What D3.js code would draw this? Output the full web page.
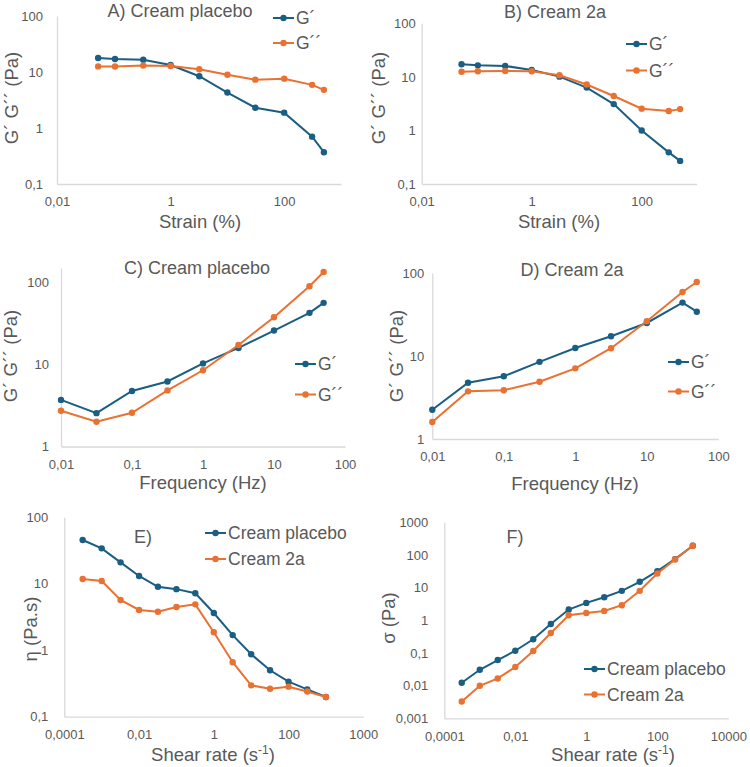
<!DOCTYPE html>
<html>
<head>
<meta charset="utf-8">
<script src="https://cdn.jsdelivr.net/npm/d3@7"></script>
<style>
  body { margin: 0; background: #fff; }
  svg { display: block; font-family: "Liberation Sans", Arial, sans-serif; }
</style>
</head>
<body>
<div id="div_chart"></div>
<script>
// ---- data ----
var strainPct = [0.053, 0.105, 0.33, 1, 3.2, 10, 31, 100, 310, 500];
var placeboStrainG1 = [17.8, 17.1, 16.6, 13.3, 8.4, 4.3, 2.3, 1.88, 0.70, 0.37];
var placeboStrainG2 = [12.6, 12.5, 13.0, 12.8, 11.2, 8.95, 7.3, 7.6, 5.9, 4.8];
var cream2aStrainG1 = [17.2, 16.4, 16.0, 13.4, 10.1, 6.3, 3.1, 1.0, 0.39, 0.27];
var cream2aStrainG2 = [12.5, 12.7, 12.9, 12.7, 10.7, 7.2, 4.4, 2.55, 2.3, 2.5];

var freqHz = [0.01, 0.0316, 0.1, 0.316, 1, 3.16, 10, 31.6, 50];
var placeboFreqG1 = [3.7, 2.55, 4.75, 6.2, 10.3, 15.9, 25.9, 42.6, 56.4];
var placeboFreqG2 = [2.73, 2.0, 2.58, 4.83, 8.5, 17.3, 37.7, 90, 134];
var cream2aFreqG1 = [2.25, 4.77, 5.7, 8.5, 12.5, 17.3, 25, 44, 34.2];
var cream2aFreqG2 = [1.6, 3.75, 3.86, 4.9, 7.1, 12.4, 26.2, 59, 78];

var shearRate = [0.00031, 0.001, 0.0032, 0.01, 0.032, 0.1, 0.32, 1, 3.2, 10, 32, 100, 316, 1000];
var placeboVisc = [45.6, 34.1, 21, 13.1, 9.0, 8.3, 7.2, 3.63, 1.69, 0.87, 0.50, 0.336, 0.258, 0.198];
var cream2aVisc = [11.8, 11.0, 5.7, 4.03, 3.8, 4.47, 4.9, 1.86, 0.66, 0.296, 0.264, 0.283, 0.24, 0.198];
var placeboStress = [0.0122, 0.0306, 0.0607, 0.117, 0.262, 0.773, 2.13, 3.41, 5.1, 7.98, 15.1, 32, 74.8, 192];
var cream2aStress = [0.00327, 0.0099, 0.0166, 0.037, 0.115, 0.41, 1.43, 1.68, 1.94, 2.9, 7.98, 27.2, 73, 192];

// tick values and their printed labels
var strainTicks = [0.01, 1, 100];
var strainTickLabels = ["0,01", "1", "100"];
var freqTicks = [0.01, 0.1, 1, 10, 100];
var freqTickLabels = ["0,01", "0,1", "1", "10", "100"];
var shearTicks = [1e-4, 1e-2, 1, 100, 1e4];
var shearTickLabelsE = ["0,0001", "0,01", "1", "100", "1000"];
var shearTickLabelsF = ["0,0001", "0,01", "1", "100", "10000"];
var modTicksAB = [0.1, 1, 10, 100];
var modTickLabelsAB = ["0,1", "1", "10", "100"];
var modTicksCD = [1, 10, 100];
var modTickLabelsCD = ["1", "10", "100"];
var viscTicks = [0.1, 1, 10, 100];
var viscTickLabels = ["0,1", "1", "10", "100"];
var stressTicks = [0.001, 0.01, 0.1, 1, 10, 100, 1000];
var stressTickLabels = ["0,001", "0,01", "0,1", "1", "10", "100", "1000"];

var gModLabels = ["G\u00b4", "G\u00b4\u00b4"];
var creamLabels = ["Cream placebo", "Cream 2a"];

var blue = "#1a5e83";
var orange = "#e97132";
var grey = "#595959";
var axisGrey = "#d9d9d9";

var svg = d3.select("#div_chart")
    .append("svg")
        .attr("width", 750)
        .attr("height", 767);

// one entry per panel: box = pixel positions of the axis range
var panels = [
    {title: "A) Cream placebo", tx: 180, ty: 17,
     x: strainPct, ys: [placeboStrainG1, placeboStrainG2], names: gModLabels,
     xDom: [0.01, 1000], xRange: [57, 341], xTicks: strainTicks, xLabels: strainTickLabels,
     yDom: [0.1, 100], yRange: [184, 16], yTicks: modTicksAB, yLabels: modTickLabelsAB, yPad: 14,
     xTitle: "Strain (%)", xtx: 200, xty: 228, yTitle: "G\u00b4 G\u00b4\u00b4 (Pa)", ytx: 18, yty: 98,
     leg: {x: 273, y: 18, dy: 25}},
    {title: "B) Cream 2a", tx: 555, ty: 18,
     x: strainPct, ys: [cream2aStrainG1, cream2aStrainG2], names: gModLabels,
     xDom: [0.01, 1000], xRange: [421.7, 696.7], xTicks: strainTicks, xLabels: strainTickLabels,
     yDom: [0.1, 100], yRange: [184, 23.3], yTicks: modTicksAB, yLabels: modTickLabelsAB, yPad: 6,
     xTitle: "Strain (%)", xtx: 559, xty: 228, yTitle: "G\u00b4 G\u00b4\u00b4 (Pa)", ytx: 385, yty: 98,
     leg: {x: 626, y: 44, dy: 26.5}},
    {title: "C) Cream placebo", tx: 197, ty: 274,
     x: freqHz, ys: [placeboFreqG1, placeboFreqG2], names: gModLabels,
     xDom: [0.01, 100], xRange: [61, 345], xTicks: freqTicks, xLabels: freqTickLabels,
     yDom: [1, 150], yRange: [446.5, 268], yTicks: modTicksCD, yLabels: modTickLabelsCD, yPad: 12,
     xTitle: "Frequency (Hz)", xtx: 203, xty: 489, yTitle: "G\u00b4 G\u00b4\u00b4 (Pa)", ytx: 17, yty: 356,
     leg: {x: 295, y: 364, dy: 30.5}},
    {title: "D) Cream 2a", tx: 572, ty: 276,
     x: freqHz, ys: [cream2aFreqG1, cream2aFreqG2], names: gModLabels,
     xDom: [0.01, 100], xRange: [432.3, 718.3], xTicks: freqTicks, xLabels: freqTickLabels,
     yDom: [1, 100], yRange: [439, 273], yTicks: modTicksCD, yLabels: modTickLabelsCD, yPad: 8,
     xTitle: "Frequency (Hz)", xtx: 575, xty: 490, yTitle: "G\u00b4 G\u00b4\u00b4 (Pa)", ytx: 403, yty: 356,
     leg: {x: 668, y: 362, dy: 29.5}},
    {title: "E)", tx: 143, ty: 543,
     x: shearRate, ys: [placeboVisc, cream2aVisc], names: creamLabels,
     xDom: [1e-4, 1e4], xRange: [64.3, 363.3], xTicks: shearTicks, xLabels: shearTickLabelsE,
     yDom: [0.1, 100], yRange: [716.7, 517.3], yTicks: viscTicks, yLabels: viscTickLabels, yPad: 16,
     xTitle: "Shear rate (s", xtx: 213, xty: 761, yTitle: "\u03b7 (Pa.s)", ytx: 37, yty: 629,
     leg: {x: 205, y: 533, dy: 26}},
    {title: "F)", tx: 515, ty: 543,
     x: shearRate, ys: [placeboStress, cream2aStress], names: creamLabels,
     xDom: [1e-4, 1e4], xRange: [444.3, 728.3], xTicks: shearTicks, xLabels: shearTickLabelsF,
     yDom: [0.001, 1000], yRange: [718.3, 522.3], yTicks: stressTicks, yLabels: stressTickLabels, yPad: 16,
     xTitle: "Shear rate (s", xtx: 613, xty: 761, yTitle: "\u03c3 (Pa)", ytx: 395, yty: 618,
     leg: {x: 584, y: 669, dy: 25.5}}
];

var colors = [blue, orange];

panels.forEach(function (p) {
    var x = d3.scaleLog().domain(p.xDom).range(p.xRange);
    var y = d3.scaleLog().domain(p.yDom).range(p.yRange);
    var g = svg.append("g");

    // X axis
    var xa = g.append("g")
        .attr("transform", "translate(0," + p.yRange[0] + ")")
        .call(d3.axisBottom(x).tickValues(p.xTicks)
            .tickFormat(function (d, i) { return p.xLabels[i]; })
            .tickSize(0).tickSizeOuter(0).tickPadding(13));
    // Y axis
    var ya = g.append("g")
        .attr("transform", "translate(" + p.xRange[0] + ",0)")
        .call(d3.axisLeft(y).tickValues(p.yTicks)
            .tickFormat(function (d, i) { return p.yLabels[i]; })
            .tickSize(0).tickSizeOuter(0).tickPadding(p.yPad));
    [xa, ya].forEach(function (a) {
        a.select(".domain").attr("stroke", axisGrey).attr("stroke-width", 1.3);
        a.selectAll("text").attr("fill", grey).style("font-size", "13px")
            .style("font-family", "'Liberation Sans', Arial, sans-serif");
    });

    // series
    p.ys.forEach(function (vals, k) {
        var pts = p.x.map(function (xv, i) { return [xv, vals[i]]; });
        g.append("path")
            .datum(pts)
            .attr("fill", "none")
            .attr("stroke", colors[k])
            .attr("stroke-width", 2)
            .attr("d", d3.line().x(d => x(d[0])).y(d => y(d[1])));
        g.selectAll(".pt" + k)
            .data(pts)
            .enter()
            .append("circle")
            .attr("cx", d => x(d[0]))
            .attr("cy", d => y(d[1]))
            .attr("r", 3.2)
            .attr("fill", colors[k]);
    });

    // legend
    p.names.forEach(function (name, k) {
        var ly = p.leg.y + k * p.leg.dy;
        g.append("line")
            .attr("x1", p.leg.x).attr("x2", p.leg.x + 21)
            .attr("y1", ly).attr("y2", ly)
            .attr("stroke", colors[k]).attr("stroke-width", 2);
        g.append("circle")
            .attr("cx", p.leg.x + 10.5).attr("cy", ly).attr("r", 3.2)
            .attr("fill", colors[k]);
        g.append("text")
            .attr("x", p.leg.x + 23).attr("y", ly)
            .attr("dy", "0.36em")
            .attr("fill", grey)
            .style("font-size", "17.5px")
            .text(name);
    });

    // titles
    g.append("text")
        .attr("x", p.tx).attr("y", p.ty)
        .attr("text-anchor", "middle")
        .attr("fill", grey)
        .style("font-size", "18px")
        .text(p.title);

    var xt = g.append("text")
        .attr("x", p.xtx).attr("y", p.xty)
        .attr("text-anchor", "middle")
        .attr("fill", grey)
        .style("font-size", "18.5px")
        .text(p.xTitle);
    if (p.xTitle.indexOf("Shear") === 0) {
        xt.append("tspan").attr("dy", -7).style("font-size", "12px").text("-1");
        xt.append("tspan").attr("dy", 7).text(")");
    }

    g.append("text")
        .attr("transform", "translate(" + p.ytx + "," + p.yty + ") rotate(-90)")
        .attr("text-anchor", "middle")
        .attr("fill", grey)
        .style("font-size", "18.5px")
        .text(p.yTitle);
});
</script>
</body>
</html>
